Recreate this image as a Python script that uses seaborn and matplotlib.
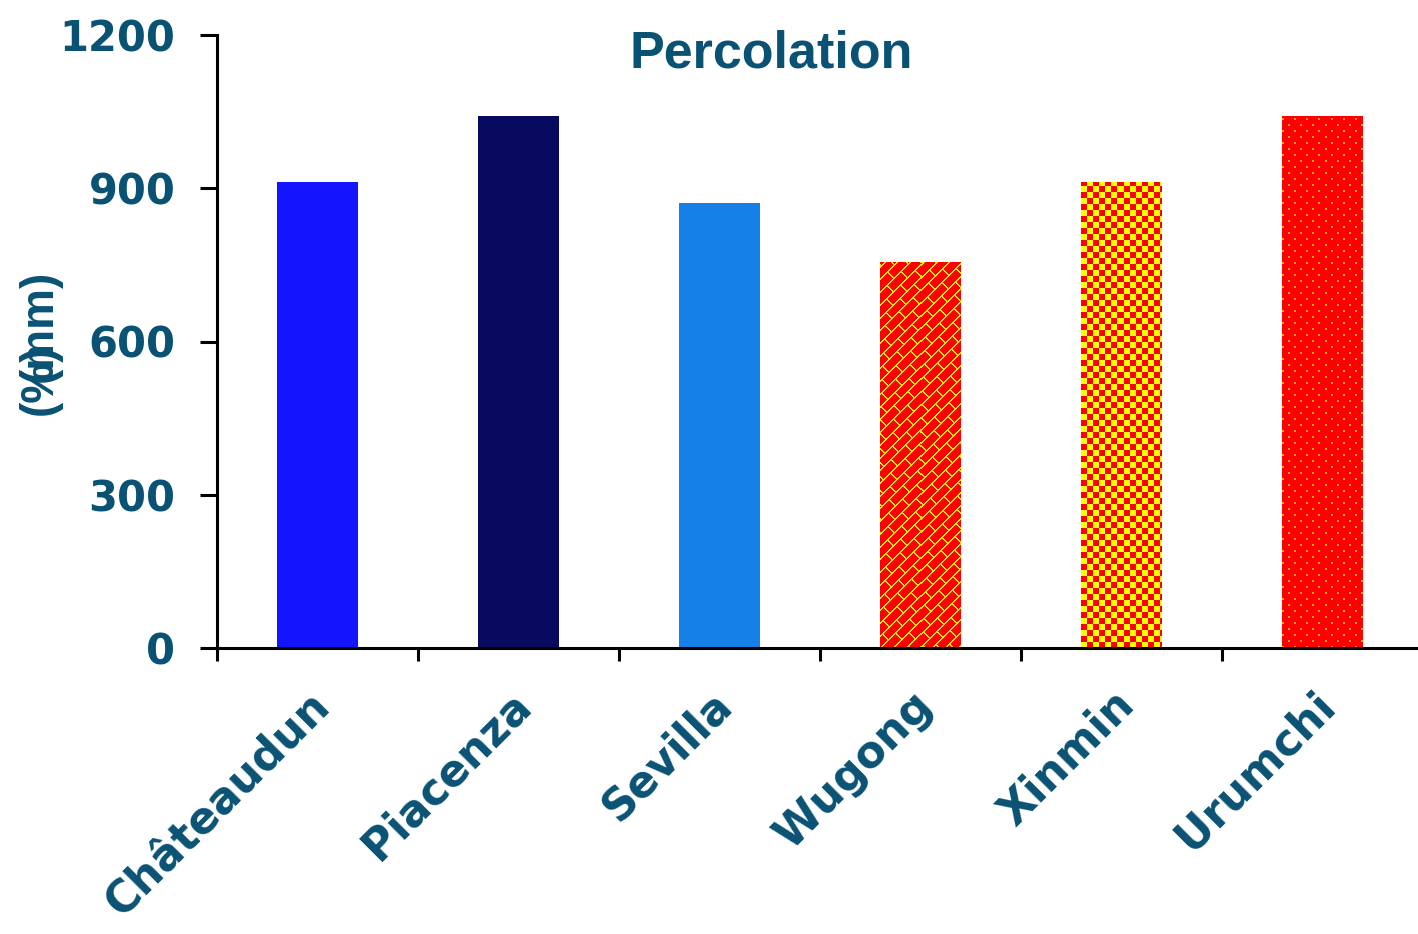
import numpy as np
import pandas as pd
import matplotlib
matplotlib.use("Agg")
import matplotlib.pyplot as plt
import matplotlib.transforms as mtransforms
import seaborn as sns

# --- data ---------------------------------------------------------------
sites = ["Châteaudun", "Piacenza", "Sevilla", "Wugong", "Xinmin", "Urumchi"]
percolation = [912, 1041, 871, 755, 912, 1041]
bar_colors = ["#1414FF", "#080A60", "#1580E8", "#FF0000", "#FF0000", "#FF0000"]
textures = [None, None, None, "brick", "checker", "dots"]
y_ticks = [0, 300, 600, 900, 1200]

TEXT = "#0A5274"

sns.set_theme(style="white")
plt.rcParams["font.family"] = ["Liberation Sans", "DejaVu Sans"]

fig = plt.figure(figsize=(14.18, 9.34), dpi=100)
ax = fig.add_axes([217 / 1418, 1 - 648 / 934, 1 - 217 / 1418, (648 - 35) / 934])

df = pd.DataFrame({"site": sites, "value": percolation})
sns.barplot(data=df, x="site", y="value", hue="site", palette=bar_colors,
            legend=False, width=0.4, saturation=1, ax=ax, linewidth=0,
            edgecolor="none")

ax.set_xlim(-0.5, 5.475)
ax.set_ylim(0, 1200)
ax.set_xlabel("")
ax.set_ylabel("")

for side in ("top", "right"):
    ax.spines[side].set_visible(False)
for side in ("left", "bottom"):
    ax.spines[side].set_color("black")
    ax.spines[side].set_linewidth(2.2)

# y axis
ax.set_yticks(y_ticks)
ax.set_yticklabels([str(v) for v in y_ticks], fontsize=30, fontweight="bold",
                   color=TEXT, family="DejaVu Sans")
ax.tick_params(axis="y", direction="out", length=12, width=2.2, color="black",
               pad=18, left=True)

# x axis: tick marks on the category boundaries, labels at the centres
ax.set_xticks(range(len(sites)))
ax.set_xticklabels(sites, fontsize=31.5, fontweight="bold", color=TEXT,
                   family="DejaVu Sans", rotation=45, ha="right",
                   va="center", rotation_mode="anchor")
ax.tick_params(axis="x", which="major", length=0, pad=36)
shift = mtransforms.ScaledTranslation(6 / 100, 0, fig.dpi_scale_trans)
for lbl in ax.get_xticklabels():
    lbl.set_transform(lbl.get_transform() + shift)
ax.set_xticks(np.arange(-0.5, len(sites) - 1, 1.0), minor=True)
ax.tick_params(axis="x", which="minor", direction="out", length=9, width=2.2,
               color="black", bottom=True)

# textured fills for the last three bars
def texture(kind, w, h):
    ys, xs = np.mgrid[0:h, 0:w]
    ys = (h - 1 - ys).astype(float)
    xs = xs.astype(float)
    img = np.zeros((h, w, 3))
    img[:] = (1.0, 0.0, 0.0)
    if kind == "checker":
        mask = ((xs // 6 + ys // 6) % 2) == 0
        img[mask] = (1.0, 1.0, 0.0)
    elif kind == "brick":
        s = (xs - ys) / np.sqrt(2)
        t = (xs + ys) / np.sqrt(2)
        period = 9.0
        row = np.floor(s / period)
        mask = (np.mod(s, period) < 1.4) | (np.mod(t + row * 10.0, 20.0) < 1.4)
        img[mask] = (1.0, 0.9, 0.0)
    elif kind == "dots":
        r = (ys // 6).astype(int)
        off = np.where(r % 2 == 0, 0, 6)
        mask = (np.mod(ys, 6) < 2) & (np.mod(xs + off, 12) < 2)
        img[mask] = (1.0, 0.63, 0.0)
    return img

fig.canvas.draw()
for patch, kind in zip(ax.patches, textures):
    if kind is None:
        continue
    bb = patch.get_window_extent()
    w, h = int(round(bb.width)), int(round(bb.height))
    x0 = patch.get_x()
    ax.imshow(texture(kind, w, h),
              extent=(x0, x0 + patch.get_width(), patch.get_y(),
                      patch.get_y() + patch.get_height()),
              origin="upper", interpolation="nearest", aspect="auto",
              zorder=patch.get_zorder() + 0.1, clip_path=patch)

ax.set_xlim(-0.5, 5.475)
ax.set_ylim(0, 1200)

# title and y-axis unit labels
fig.text(771 / 1418, 1 - 54 / 934, "Percolation", ha="center", va="center",
         fontsize=37.5, fontweight="bold", color=TEXT)
fig.text(40 / 1418, 1 - 326 / 934, "(mm)", rotation=90, ha="center",
         va="center", fontsize=33, fontweight="bold", color=TEXT)
fig.text(40 / 1418, 1 - 379 / 934, "(%)", rotation=90, ha="center",
         va="center", fontsize=33, fontweight="bold", color=TEXT)

fig.savefig("out.png", dpi=100)
